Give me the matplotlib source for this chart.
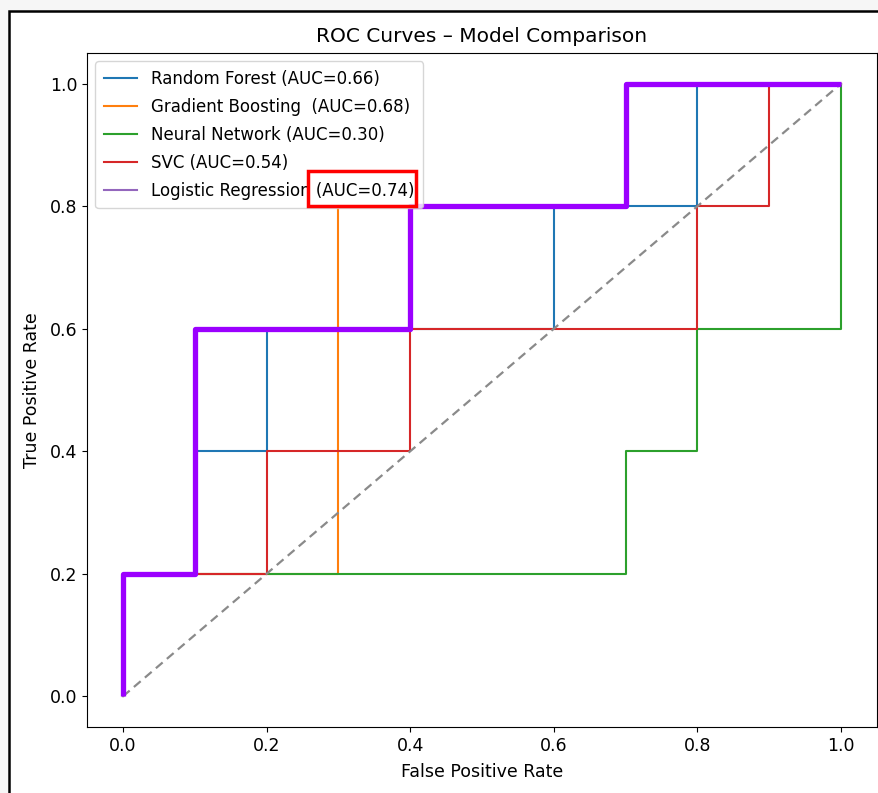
import matplotlib
matplotlib.use("Agg")
import matplotlib.pyplot as plt
from matplotlib.patches import Rectangle

# ROC data (fpr, tpr) per model
rf_fpr = [0, 0, 0.1, 0.1, 0.2, 0.2, 0.6, 0.6, 0.8, 0.8, 1.0]
rf_tpr = [0, 0.2, 0.2, 0.4, 0.4, 0.6, 0.6, 0.8, 0.8, 1.0, 1.0]
gb_fpr = [0, 0, 0.3, 0.3, 0.7, 0.7, 1.0]
gb_tpr = [0, 0.2, 0.2, 0.8, 0.8, 1.0, 1.0]
nn_fpr = [0, 0, 0.7, 0.7, 0.8, 0.8, 1.0, 1.0]
nn_tpr = [0, 0.2, 0.2, 0.4, 0.4, 0.6, 0.6, 1.0]
svc_fpr = [0, 0, 0.2, 0.2, 0.4, 0.4, 0.8, 0.8, 0.9, 0.9, 1.0]
svc_tpr = [0, 0.2, 0.2, 0.4, 0.4, 0.6, 0.6, 0.8, 0.8, 1.0, 1.0]
lr_fpr = [0, 0, 0.1, 0.1, 0.4, 0.4, 0.7, 0.7, 1.0]
lr_tpr = [0, 0.2, 0.2, 0.6, 0.6, 0.8, 0.8, 1.0, 1.0]

labels = ["Random Forest (AUC=0.66)", "Gradient Boosting  (AUC=0.68)",
          "Neural Network (AUC=0.30)", "SVC (AUC=0.54)",
          "Logistic Regression (AUC=0.74)"]
colors = ["#1f77b4", "#ff7f0e", "#2ca02c", "#d62728", "#9467bd"]

fig = plt.figure(figsize=(8.79, 7.93), dpi=100, facecolor="#f6f6f6")
# screenshot frame
fig.add_artist(Rectangle((9/879, -0.1), 1.2, (793-11)/793 + 0.1,
                         transform=fig.transFigure, facecolor="white",
                         edgecolor="black", linewidth=1.8, zorder=0))

ax = fig.add_axes([87/879, 66/793, 790/879, 674/793])
series = [(rf_fpr, rf_tpr), (gb_fpr, gb_tpr), (nn_fpr, nn_tpr),
          (svc_fpr, svc_tpr), (lr_fpr, lr_tpr)]
for (f, t), lab, c in zip(series, labels, colors):
    ax.plot(f, t, color=c, lw=1.5, label=lab)
ax.plot([0, 1], [0, 1], linestyle=(0, (4, 2.5)), color="#8a8a8a", lw=1.6)
# highlight overlay
ax.plot(lr_fpr, lr_tpr, color="#9b00ff", lw=3.8, solid_capstyle="butt", zorder=5)

ax.set_title("ROC Curves \u2013 Model Comparison", fontsize=14.5, pad=8)
ax.set_xlabel("False Positive Rate", fontsize=12.5, labelpad=6)
ax.set_ylabel("True Positive Rate", fontsize=12.5, labelpad=6)
ax.tick_params(labelsize=12.5)
leg = ax.legend(loc="upper left", fontsize=12, labelspacing=0.6,
                handlelength=2.0, handletextpad=0.85, borderpad=0.5)

# red highlight box around the last legend entry's AUC value
fig.canvas.draw()
tb = leg.get_texts()[-1].get_window_extent()
W, H = fig.bbox.width, fig.bbox.height
right = tb.x1 + 1
cy = (tb.y0 + tb.y1) / 2 + 2
fig.add_artist(Rectangle(((right - 108) / W, (cy - 17.5) / H), 108 / W, 35 / H,
                         transform=fig.transFigure, facecolor="none",
                         edgecolor="red", linewidth=2.5, zorder=10))

fig.savefig("out.png", dpi=100, facecolor=fig.get_facecolor())
